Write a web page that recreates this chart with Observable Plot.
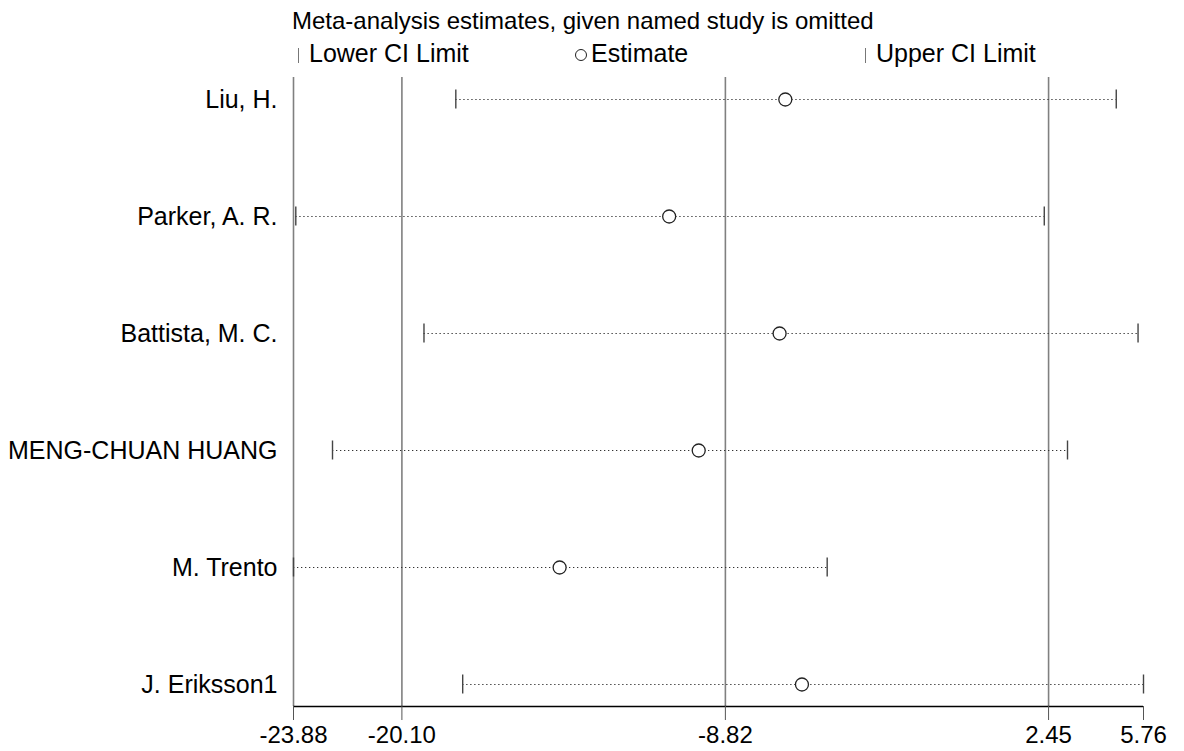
<!DOCTYPE html>
<html>
<head>
<meta charset="utf-8">
<script src="https://cdn.jsdelivr.net/npm/d3@7"></script>
<script src="https://cdn.jsdelivr.net/npm/@observablehq/plot@0.6"></script>
<style>
  body { margin: 0; background: #fff; font-family: "Liberation Sans", Arial, sans-serif; }
  #head { position: relative; height: 77px; width: 1184px; color: #000; font-size: 24px; }
  #head .t { position: absolute; white-space: nowrap; line-height: 1; }
  #head .lg { font-size: 25px; }
  .bar { display: inline-block; width: 0; height: 15px; border-left: 1px solid #777; vertical-align: -1px; margin-right: 10px; }
  .ring { display: inline-block; width: 10px; height: 10px; border: 1px solid #222; border-radius: 50%; margin-right: 4px; vertical-align: 1px; }
</style>
</head>
<body>
<div id="head"></div>
<div id="chart"></div>
<script>
// Leave-one-out sensitivity analysis: pooled estimate and CI with each study omitted
const studies = ["Liu, H.", "Parker, A. R.", "Battista, M. C.", "MENG-CHUAN HUANG", "M. Trento", "J. Eriksson1"];
const estimate = [-6.73, -10.78, -6.93, -9.75, -14.60, -6.15];
const lowerCI = [-18.22, -23.80, -19.33, -22.52, -23.88, -17.98];
const upperCI = [4.81, 2.30, 5.57, 3.11, -5.27, 5.76];

const tickValues = [-23.88, -20.10, -8.82, 2.45, 5.76];
const tickLabels = ["-23.88", "-20.10", "-8.82", "2.45", "5.76"];
const refLines = [-23.88, -20.10, -8.82, 2.45];

const title = "Meta-analysis estimates, given named study is omitted";
const legendLabels = ["Lower CI Limit", "Estimate", "Upper CI Limit"];

const rows = studies.map((s, i) => ({study: s, est: estimate[i], lo: lowerCI[i], hi: upperCI[i]}));
const xDomain = [tickValues[0], tickValues[tickValues.length - 1]];

// header: title and legend
const head = d3.select("#head");
head.append("div").attr("class", "t").style("left", "292px").style("top", "9px").text(title);
head.append("div").attr("class", "t lg").style("left", "298px").style("top", "41px")
  .html(`<span class="bar"></span>${legendLabels[0]}`);
head.append("div").attr("class", "t lg").style("left", "575px").style("top", "41px")
  .html(`<span class="ring"></span>${legendLabels[1]}`);
head.append("div").attr("class", "t lg").style("left", "865px").style("top", "41px")
  .html(`<span class="bar"></span>${legendLabels[2]}`);

// baseline of the x axis, drawn through the x scale
function axisLine(index, {x}, values, {height, marginBottom}) {
  return d3.create("svg:line")
    .attr("x1", x(xDomain[0])).attr("x2", x(xDomain[1]))
    .attr("y1", height - marginBottom + 0.5).attr("y2", height - marginBottom + 0.5)
    .attr("stroke", "#000").attr("stroke-width", 1.5)
    .node();
}

const chart = Plot.plot({
  width: 1184,
  height: 674,
  marginTop: 0,
  marginBottom: 45,
  marginLeft: 293,
  marginRight: 41,
  style: {fontFamily: "'Liberation Sans', Arial, sans-serif", fontSize: "24px", color: "#000", background: "#fff"},
  x: {domain: xDomain},
  y: {type: "band", domain: studies, paddingInner: 0.624, paddingOuter: 0},
  marks: [
    Plot.ruleX(refLines, {stroke: "#808080", strokeWidth: 1.6}),
    Plot.ruleY(rows, {y: "study", x1: "lo", x2: "hi", stroke: "#333", strokeWidth: 1.2, strokeDasharray: "1.3,2.7"}),
    Plot.tickX(rows, {x: "lo", y: "study", stroke: "#444", strokeWidth: 1.4, insetTop: 12.5, insetBottom: 12.5}),
    Plot.tickX(rows, {x: "hi", y: "study", stroke: "#444", strokeWidth: 1.4, insetTop: 12.5, insetBottom: 12.5}),
    Plot.dot(rows, {x: "est", y: "study", r: 6.5, stroke: "#222", strokeWidth: 1.3, fill: "#fff"}),
    axisLine,
    Plot.axisX({ticks: tickValues, tickFormat: (d, i) => tickLabels[i], tickSize: 14, tickPadding: 5,
      stroke: "#555", fontSize: 24, label: null}),
    Plot.axisY({tickSize: 0, tickPadding: 16, fontSize: 25, label: null})
  ]
});
document.getElementById("chart").append(chart);
</script>
</body>
</html>
